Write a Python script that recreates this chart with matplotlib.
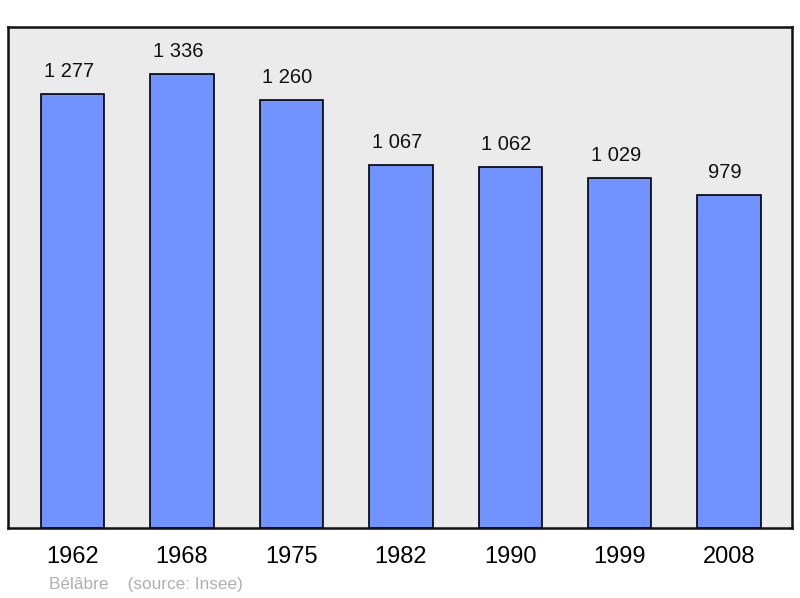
import matplotlib
matplotlib.use('Agg')
import matplotlib.pyplot as plt

years = ['1962', '1968', '1975', '1982', '1990', '1999', '2008']
population = [1277, 1336, 1260, 1067, 1062, 1029, 979]
labels = ['1 277', '1 336', '1 260', '1 067', '1 062', '1 029', '979']

plt.rcParams['font.family'] = ['Liberation Sans', 'DejaVu Sans']

fig = plt.figure(figsize=(8, 5.98), dpi=100)
ax = fig.add_axes([8 / 800, 1 - 528 / 598, 784 / 800, 501 / 598])
ax.set_facecolor('#ebebeb')

x = range(len(years))
ax.bar(x, population, width=0.58, color='#7093ff', edgecolor='black', linewidth=1.2, zorder=2)
for i, (v, lab) in enumerate(zip(population, labels)):
    ax.text(i - 0.035, v + 38, lab, ha='center', va='bottom', fontsize=14.5, color='#111111')

ax.set_xlim(-0.59, 6.575)
ax.set_ylim(0, 1474)
ax.set_yticks([])
ax.set_xticks(list(x))
ax.set_xticklabels(years, fontsize=17)
ax.tick_params(axis='x', length=0, pad=13)
for s in ax.spines.values():
    s.set_linewidth(1.8)
    s.set_color('#111111')

fig.text(49 / 800, 1 - 584 / 598, 'Bélâbre    (source: Insee)', fontsize=12.4, color='#b0b0b0',
         ha='left', va='center')

fig.savefig('out.png', dpi=100)
